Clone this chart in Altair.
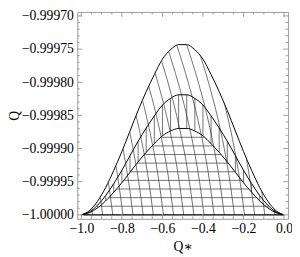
import altair as alt
import pandas as pd

# ---- data ----
grid_x = [-1.00, -0.96, -0.92, -0.88, -0.84, -0.80, -0.76, -0.72, -0.68, -0.64, -0.60, -0.56, -0.52,
          -0.48, -0.44, -0.40, -0.36, -0.32, -0.28, -0.24, -0.20, -0.16, -0.12, -0.08, -0.04, 0.00]
outer_q = [-1.0, -0.9999936, -0.9999794, -0.9999587, -0.9999329, -0.9999045, -0.9998736, -0.9998426,
           -0.9998142, -0.9997884, -0.9997652, -0.9997510, -0.9997433,
           -0.9997433, -0.9997510, -0.9997652, -0.9997884, -0.9998142, -0.9998426, -0.9998736,
           -0.9999045, -0.9999329, -0.9999587, -0.9999794, -0.9999936, -1.0]
middle_q = [-1.0, -0.9999955, -0.9999854, -0.9999709, -0.9999527, -0.9999327, -0.9999108, -0.9998890,
            -0.9998690, -0.9998508, -0.9998344, -0.9998244, -0.9998189,
            -0.9998189, -0.9998244, -0.9998344, -0.9998508, -0.9998690, -0.9998890, -0.9999108,
            -0.9999327, -0.9999527, -0.9999709, -0.9999854, -0.9999955, -1.0]
inner_q = [-1.0, -0.9999967, -0.9999895, -0.9999790, -0.9999659, -0.9999515, -0.9999358, -0.9999201,
           -0.9999057, -0.9998926, -0.9998808, -0.9998736, -0.9998697,
           -0.9998697, -0.9998736, -0.9998808, -0.9998926, -0.9999057, -0.9999201, -0.9999358,
           -0.9999515, -0.9999659, -0.9999790, -0.9999895, -0.9999967, -1.0]

mask_x_ends = [-1.02, 0.02]
base_q = -1.0
base_span = [-0.99, 0.0]

h_levels = [-0.999987, -0.999974, -0.999961, -0.999948, -0.999935, -0.999922, -0.999909, -0.999896, -0.999883]

# slanted mesh lines: where each meets Q = -1, and how far left it has drifted at each height
diag_bottom_x = [-0.945, -0.895, -0.845, -0.795, -0.745, -0.695, -0.645, -0.595, -0.545, -0.495, -0.445,
                 -0.395, -0.345, -0.295, -0.245, -0.195, -0.145, -0.095, -0.045, 0.005, 0.055]
diag_q = [-1.0, -0.99995, -0.9999, -0.99985, -0.9998, -0.99975, -0.9997]
diag_shift = [0.0, 0.022, 0.050, 0.085, 0.128, 0.178, 0.232]

x_major = [-1.0, -0.8, -0.6, -0.4, -0.2, 0.0]
x_minor = [-0.95, -0.9, -0.85, -0.75, -0.7, -0.65, -0.55, -0.5, -0.45, -0.35, -0.3, -0.25, -0.15, -0.1, -0.05]
y_major = [-1.0, -0.99995, -0.9999, -0.99985, -0.9998, -0.99975, -0.9997]
y_minor = [-0.99999, -0.99998, -0.99997, -0.99996, -0.99994, -0.99993, -0.99992, -0.99991,
           -0.99989, -0.99988, -0.99987, -0.99986, -0.99984, -0.99983, -0.99982, -0.99981,
           -0.99979, -0.99978, -0.99977, -0.99976, -0.99974, -0.99973, -0.99972, -0.99971]

# ---- styling ----
W, H = 216, 212
FONT = "Liberation Serif, DejaVu Serif, serif"
FRAME = "#9a9a9a"
MESH = "#333333"
xs = alt.Scale(domain=[-1.02, 0.02], nice=False, zero=False)
ys = alt.Scale(domain=[-1.000006, -0.999694], nice=False, zero=False)

def X(f, axis=None):
    return alt.X(f, type="quantitative", scale=xs, axis=axis)

def Y(f, axis=None):
    return alt.Y(f, type="quantitative", scale=ys, axis=axis)

def mask_df(vals):
    return pd.DataFrame({"x": [mask_x_ends[0]] + grid_x + [mask_x_ends[1]],
                         "q": [base_q] + vals + [base_q]})

hlines = alt.Chart(pd.DataFrame({"q": h_levels})).mark_rule(
    color=MESH, strokeWidth=0.7, clip=True).encode(y=Y("q"))

def mask(vals):
    return alt.Chart(mask_df(vals)).mark_area(
        color="white", stroke="white", strokeWidth=1, interpolate="monotone", clip=True
    ).encode(x=X("x"), y=Y("q"), y2=alt.value(0))

vlines = alt.Chart(pd.DataFrame({"x": grid_x[1:-1], "lo": inner_q[1:-1], "hi": middle_q[1:-1]})).mark_rule(
    color=MESH, strokeWidth=0.7).encode(x=X("x"), y=Y("lo"), y2="hi")

diag_rows = []
for i, xb in enumerate(diag_bottom_x):
    for j, (q, s) in enumerate(zip(diag_q, diag_shift)):
        diag_rows.append({"id": i, "o": j, "x": xb - s, "q": q})
diag = alt.Chart(pd.DataFrame(diag_rows)).mark_line(
    color=MESH, strokeWidth=0.7, clip=True, interpolate="monotone").encode(
    x=X("x"), y=Y("q"), detail="id:N", order="o:Q")

n = len(grid_x)
curves_df = pd.DataFrame({"x": grid_x * 3, "q": outer_q + middle_q + inner_q,
                          "c": ["outer"] * n + ["middle"] * n + ["inner"] * n})
label_axis_x = alt.Axis(orient="bottom", values=x_major, format=".1f", ticks=False, domain=True,
                        domainColor=FRAME, domainWidth=1, grid=False, labelFont=FONT, labelFontSize=14,
                        labelColor="black", labelPadding=3, labelFlush=False, title="Q∗", titleFont=FONT,
                        titleFontSize=14, titleFontWeight="normal", titleColor="black", titlePadding=4,
                        zindex=1)
label_axis_y = alt.Axis(orient="left", values=y_major, format=".5f", ticks=False, domain=True,
                        domainColor=FRAME, domainWidth=1, grid=False, labelFont=FONT, labelFontSize=14,
                        labelColor="black", labelPadding=4, labelFlush=False, title="Q", titleFont=FONT,
                        titleFontSize=14, titleFontWeight="normal", titleColor="black",
                        titleX=-64, titleBaseline="middle", zindex=1)
curves = alt.Chart(curves_df).mark_line(color="black", strokeWidth=1, interpolate="monotone").encode(
    x=X("x", label_axis_x), y=Y("q", label_axis_y), detail="c:N")

base = alt.Chart(pd.DataFrame({"x1": [base_span[0]], "x2": [base_span[1]], "q": [base_q]})).mark_rule(
    color="black", strokeWidth=1.5).encode(x=X("x1"), x2="x2", y=Y("q"))

def xticks(vals, length, top, axis=None):
    y0 = 0 if top else H
    y1 = length if top else H - length
    return alt.Chart(pd.DataFrame({"v": vals})).mark_rule(color=FRAME, strokeWidth=1).encode(
        x=X("v", axis), y=alt.value(y0), y2=alt.value(y1))

def yticks(vals, length, right, axis=None):
    x0 = W if right else 0
    x1 = W - length if right else length
    return alt.Chart(pd.DataFrame({"v": vals})).mark_rule(color=FRAME, strokeWidth=1).encode(
        y=Y("v", axis), x=alt.value(x0), x2=alt.value(x1))

top_axis = alt.Axis(orient="top", labels=False, ticks=False, domain=True, domainColor=FRAME,
                    domainWidth=1, grid=False, title=None, zindex=1)
right_axis = alt.Axis(orient="right", labels=False, ticks=False, domain=True, domainColor=FRAME,
                      domainWidth=1, grid=False, title=None, zindex=1)

chart = alt.layer(
    hlines, mask(inner_q), vlines, diag, mask(outer_q), curves, base,
    xticks(x_major, 5, False), xticks(x_minor, 2.5, False),
    xticks(x_major, 5, True, top_axis), xticks(x_minor, 2.5, True),
    yticks(y_major, 5, False), yticks(y_minor, 2.5, False),
    yticks(y_major, 5, True, right_axis), yticks(y_minor, 2.5, True),
).resolve_axis(x="independent", y="independent").properties(
    width=W, height=H, autosize=alt.AutoSizeParams(type="none"),
    padding={"left": 71, "top": 1, "right": 4, "bottom": 34},
    background="white",
).configure_view(stroke=None)

chart.save("out.html", embed_options={"renderer": "svg", "actions": False})
